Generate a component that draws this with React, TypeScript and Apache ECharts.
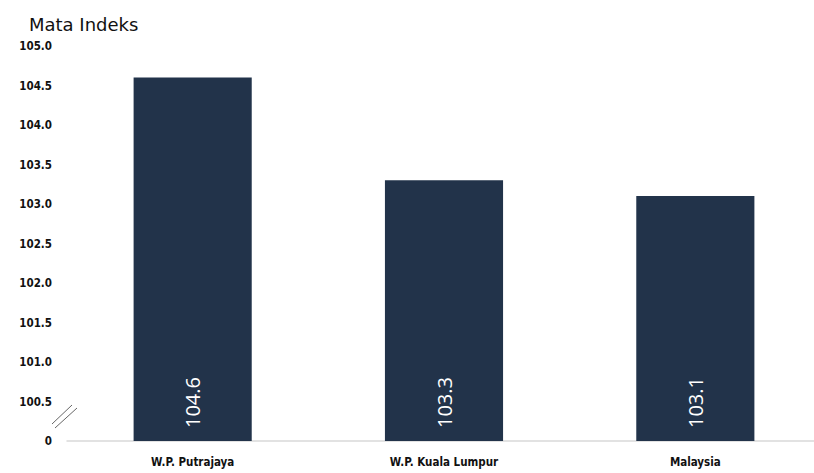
import React, { useEffect, useRef } from "react";
import * as echarts from "echarts";

const categories = ["W.P. Putrajaya", "W.P. Kuala Lumpur", "Malaysia"];
const values = [104.6, 103.3, 103.1];
const axisBase = 100.0; // axis break: shown as "0"
const axisMax = 105.0;
const tickStep = 0.5;
const titleText = "Mata Indeks";

const labelFont = "'Liberation Sans Narrow', 'DejaVu Sans Condensed', 'Roboto Condensed', sans-serif";

export default function App() {
  const ref = useRef<HTMLDivElement>(null);
  useEffect(() => {
    if (!ref.current) return;
    const chart = echarts.init(ref.current, undefined, { renderer: "svg" });
    chart.setOption({
      animation: false,
      backgroundColor: "#ffffff",
      title: {
        text: titleText,
        left: 24,
        top: 10,
        textStyle: { fontFamily: "'DejaVu Sans', sans-serif", fontSize: 18, fontWeight: "normal", color: "#111" },
      },
      grid: { left: 67, right: -7, top: 46, bottom: 32, outerBoundsMode: "none", containLabel: false },
      xAxis: {
        type: "category",
        data: categories,
        axisLine: { show: true, lineStyle: { color: "#d9d9d9", width: 1.5 } },
        axisTick: { show: false },
        axisLabel: { margin: 15, color: "#111", fontSize: 11.5, fontWeight: "bold", fontFamily: labelFont },
      },
      yAxis: {
        type: "value",
        min: axisBase,
        max: axisMax,
        interval: tickStep,
        axisLine: { show: false },
        axisTick: { show: false },
        splitLine: { show: false },
        axisLabel: {
          margin: 15,
          color: "#111",
          fontSize: 11.5,
          fontWeight: "bold",
          fontFamily: labelFont,
          formatter: (v: number) => (Math.abs(v - axisBase) < 1e-9 ? "0" : v.toFixed(1)),
        },
      },
      series: [
        {
          type: "bar",
          data: values,
          barWidth: "47%",
          itemStyle: { color: "#22334a" },
          label: {
            show: true,
            position: "insideBottom",
            rotate: 90,
            align: "left",
            verticalAlign: "middle",
            distance: 13,
            color: "#ffffff",
            fontSize: 20,
            fontFamily: "'Open Sans', 'DejaVu Sans', sans-serif",
            formatter: (p: any) => Number(p.value).toFixed(1),
          },
        },
      ],
      graphic: [
        { type: "line", shape: { x1: 52, y1: 424, x2: 72, y2: 405 }, style: { stroke: "#666", lineWidth: 1 } },
        { type: "line", shape: { x1: 55, y1: 428, x2: 77, y2: 408 }, style: { stroke: "#666", lineWidth: 1 } },
      ],
    });
    return () => chart.dispose();
  }, []);
  return <div ref={ref} style={{ position: "fixed", left: 0, top: 0, width: 814, height: 473 }} />;
}
